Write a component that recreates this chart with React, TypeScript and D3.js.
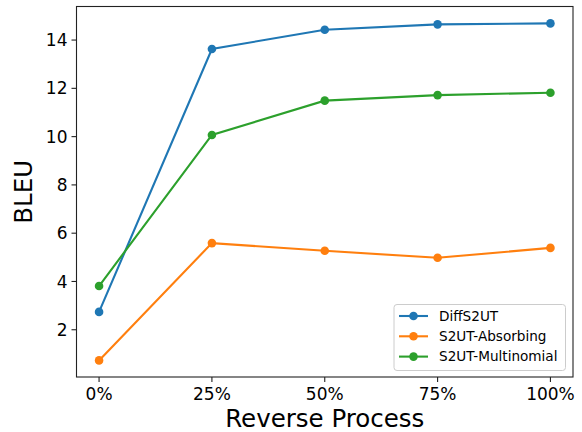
import React from 'react';
import * as d3 from 'd3';

// data
const steps = [0, 25, 50, 75, 100];
const diffS2UT = [2.74, 13.63, 14.43, 14.65, 14.69];
const s2utAbsorbing = [0.73, 5.59, 5.27, 4.98, 5.39];
const s2utMultinomial = [3.81, 10.07, 11.49, 11.72, 11.82];
const yTicks = [2, 4, 6, 8, 10, 12, 14];

const series = [
  {name: 'DiffS2UT', values: diffS2UT, color: '#1f77b4'},
  {name: 'S2UT-Absorbing', values: s2utAbsorbing, color: '#ff7f0e'},
  {name: 'S2UT-Multinomial', values: s2utMultinomial, color: '#2ca02c'},
];

const W = 582;
const H = 432;
const left = 76.5;
const right = 573;
const top = 6.5;
const bottom = 377;
const font = 'DejaVu Sans, sans-serif';

export default function App() {
  const x = d3.scaleLinear().domain([-5, 105]).range([left, right]);
  const y = d3.scaleLinear().domain([0.043, 15.39]).range([bottom, top]);

  const line = d3.line<number>()
    .x((d, i) => x(steps[i]))
    .y(d => y(d));

  const legX = 394;
  const legY = 304.5;

  return (
    <svg width={W} height={H} style={{position: 'absolute', left: 0, top: 0}}
      fontFamily={font}>
      <rect width={W} height={H} fill="white" />

      {series.map(s => (
        <g key={s.name}>
          <path d={line(s.values) || ''} fill="none" stroke={s.color} strokeWidth={2.1} />
          {s.values.map((v, i) => (
            <circle key={i} cx={x(steps[i])} cy={y(v)} r={4.3} fill={s.color} />
          ))}
        </g>
      ))}

      {/* spines */}
      <rect x={left} y={top} width={right - left} height={bottom - top}
        fill="none" stroke="#222" strokeWidth={1.1} />

      {/* y axis */}
      {yTicks.map(t => (
        <g key={t}>
          <line x1={left - 5} x2={left} y1={y(t)} y2={y(t)} stroke="#222" strokeWidth={1.1} />
          <text x={left - 9} y={y(t)} dy="0.36em" textAnchor="end" fontSize={17}>{t}</text>
        </g>
      ))}

      {/* x axis */}
      {steps.map(t => (
        <g key={t}>
          <line x1={x(t)} x2={x(t)} y1={bottom} y2={bottom + 5} stroke="#222" strokeWidth={1.1} />
          <text x={x(t)} y={400} textAnchor="middle" fontSize={17}>{t + '%'}</text>
        </g>
      ))}

      <text x={(left + right) / 2} y={426.5} textAnchor="middle" fontSize={24.5}>Reverse Process</text>
      <text transform={`translate(32,${(top + bottom) / 2}) rotate(-90)`} textAnchor="middle" fontSize={24.5}>BLEU</text>

      {/* legend */}
      <rect x={legX} y={legY} width={171.5} height={66} rx={3} fill="white" fillOpacity={0.8}
        stroke="#ccc" strokeWidth={1} />
      {series.map((s, i) => {
        const ly = 316 + i * 20.3;
        return (
          <g key={s.name}>
            <line x1={399} x2={428} y1={ly} y2={ly} stroke={s.color} strokeWidth={2.1} />
            <circle cx={413.5} cy={ly} r={4.3} fill={s.color} />
            <text x={439} y={ly} dy="0.36em" fontSize={13.6}>{s.name}</text>
          </g>
        );
      })}
    </svg>
  );
}
